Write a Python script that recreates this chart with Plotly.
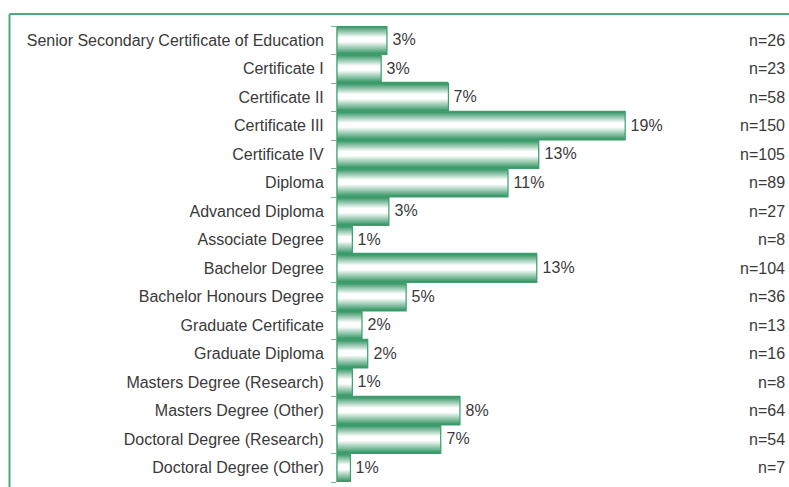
import plotly.graph_objects as go

categories = [
    "Senior Secondary Certificate of Education", "Certificate I", "Certificate II",
    "Certificate III", "Certificate IV", "Diploma", "Advanced Diploma",
    "Associate Degree", "Bachelor Degree", "Bachelor Honours Degree",
    "Graduate Certificate", "Graduate Diploma", "Masters Degree (Research)",
    "Masters Degree (Other)", "Doctoral Degree (Research)", "Doctoral Degree (Other)",
]
counts = [26, 23, 58, 150, 105, 89, 27, 8, 104, 36, 13, 16, 8, 64, 54, 7]

total = sum(counts)
shares = [c / total * 100 for c in counts]
pct_labels = [f"\u2009{round(s)}%" for s in shares]
n_labels = [f"n={c}" for c in counts]
idx = list(range(len(categories)))

GREEN = "#3f9f6e"
LIGHT = "#6dbb92"
TXT = "#3a3a3a"
FONT = "Liberation Sans, Arial, sans-serif"
FS = 16

fig = go.Figure()

# base bars (carry the % labels)
fig.add_trace(go.Bar(
    x=shares, y=idx, orientation="h", width=1,
    marker=dict(color="rgba(0,0,0,0)", line=dict(color=GREEN, width=1.2)),
    text=pct_labels, textposition="outside", cliponaxis=False,
    textfont=dict(size=FS, color=TXT, family=FONT),
    hoverinfo="skip", showlegend=False,
))

# gradient fill for each bar
for i, s in zip(idx, shares):
    fig.add_trace(go.Scatter(
        x=[0, s, s, 0, 0], y=[i - 0.5, i - 0.5, i + 0.5, i + 0.5, i - 0.5],
        mode="lines", fill="toself",
        line=dict(color=GREEN, width=1.2),
        fillgradient=dict(type="vertical",
                          colorscale=[[0, "#2a905d"], [0.45, "#ffffff"], [0.6, "#ffffff"], [1, "#2a905d"]]),
        hoverinfo="skip", showlegend=False,
    ))

for i, t in zip(idx, n_labels):
    fig.add_annotation(x=1, xref="paper", y=i, yref="y", text=t, showarrow=False,
                       xanchor="right", xshift=-2,
                       font=dict(size=FS, color=TXT, family=FONT))

W, H = 789, 487
ml, mr, mt, mb = 337, 0, 26, 5
pw, ph = W - ml - mr, H - mt - mb

def px(x):
    return (x - ml) / pw

def py(y):
    return (H - mb - y) / ph

fig.add_shape(type="line", xref="paper", yref="paper", x0=px(9.5), x1=px(W + 2), y0=py(14), y1=py(14),
              line=dict(color="#4dab7b", width=2))
fig.add_shape(type="line", xref="paper", yref="paper", x0=px(9.5), x1=px(9.5), y0=py(14), y1=py(H + 2),
              line=dict(color="#4dab7b", width=2))

fig.update_layout(
    width=W, height=H, margin=dict(l=ml, r=mr, t=mt, b=mb),
    paper_bgcolor="white", plot_bgcolor="white", bargap=0,
    xaxis=dict(range=[0, pw / 15.14], visible=False, fixedrange=True),
    yaxis=dict(
        range=[len(categories) - 0.5, -0.5], tickmode="array", tickvals=idx, ticktext=categories,
        ticks="outside", ticklen=5, tickcolor="rgba(0,0,0,0)", ticklabelstandoff=4,
        showline=True, linecolor=LIGHT, linewidth=1, showgrid=False, zeroline=False,
        tickfont=dict(size=FS, color=TXT, family=FONT), fixedrange=True,
        minor=dict(tickmode="array", tickvals=[i - 0.5 for i in idx] + [len(idx) - 0.5],
                   ticks="outside", ticklen=5, tickcolor=LIGHT, tickwidth=1, showgrid=False),
    ),
)

fig.write_html("out.html", config={"displayModeBar": False},
               post_script="document.body.style.margin='0';document.body.style.overflow='hidden';")
